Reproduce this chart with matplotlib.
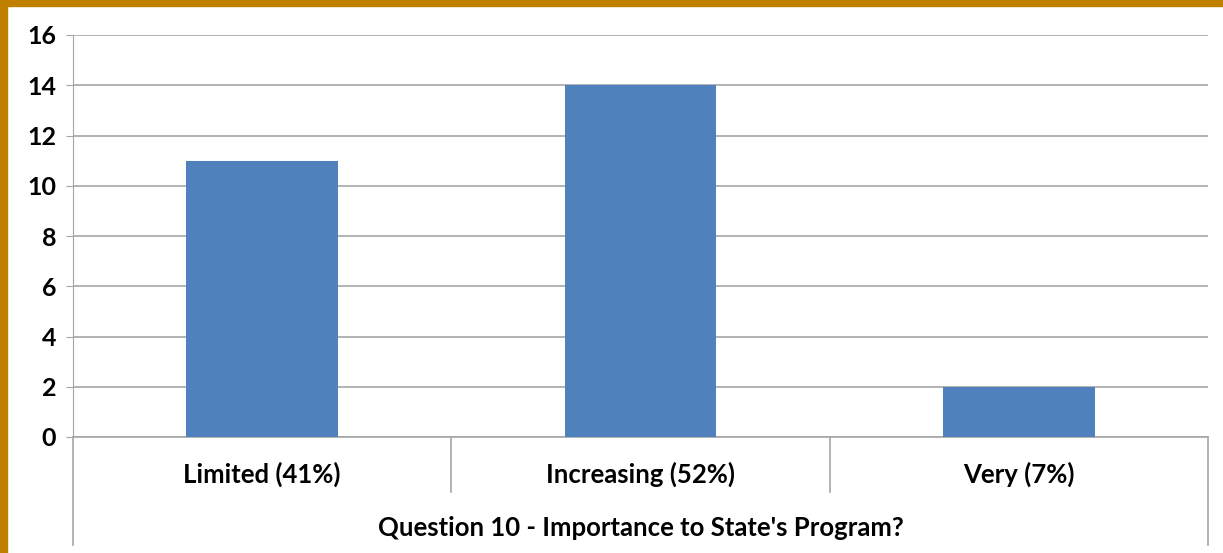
import matplotlib.pyplot as plt
from matplotlib.lines import Line2D
from matplotlib.patches import Rectangle

categories = ['Limited (41%)', 'Increasing (52%)', 'Very (7%)']
counts = [11, 14, 2]
group_label = "Question 10 - Importance to State's Program?"
yticks = [0, 2, 4, 6, 8, 10, 12, 14, 16]

W, H = 1223, 553
fig = plt.figure(figsize=(W / 100, H / 100), dpi=100)
fig.patch.set_facecolor('white')

# gold frame on left and top edges
fig.patches.append(Rectangle((0, 0), 7 / W, 1, transform=fig.transFigure,
                             color='#BF8000', zorder=0))
fig.patches.append(Rectangle((0, 1 - 6 / H), 1, 6 / H, transform=fig.transFigure,
                             color='#BF8000', zorder=0))

x0, x1 = 73, 1208
y0, y1 = 437, 35
ax = fig.add_axes([x0 / W, 1 - y0 / H, (x1 - x0) / W, (y0 - y1) / H])

grid_col = '#A6A6A6'
font = ['Lato', 'DejaVu Sans']
fs = 18.5

xs = range(len(categories))
ax.bar(xs, counts, width=0.4, color='#4F81BD', zorder=3)
ax.set_xlim(-0.5, len(categories) - 0.5)
ax.set_ylim(0, 16)
ax.set_yticks(yticks)
ax.set_yticklabels([str(v) for v in yticks], fontsize=18, fontweight='bold',
                   family=font)
ax.tick_params(axis='y', length=5, color=grid_col, pad=7)
ax.set_xticks([])
ax.yaxis.grid(True, color=grid_col, linewidth=1.2, zorder=0)
ax.set_axisbelow(True)
for s in ['top', 'right', 'bottom']:
    ax.spines[s].set_visible(False)
ax.spines['left'].set_color(grid_col)

# two-level category axis drawn below the plot
px = 1 / (y0 - y1)
ax.add_line(Line2D([0, 1], [0, 0], transform=ax.transAxes, color=grid_col,
                   lw=1.2, clip_on=False))
for xa in [0, 1]:
    ax.add_line(Line2D([xa, xa], [0, -108 * px], transform=ax.transAxes,
                       color=grid_col, lw=1.2, clip_on=False))
for k in range(1, len(categories)):
    xa = k / len(categories)
    ax.add_line(Line2D([xa, xa], [0, -55 * px], transform=ax.transAxes,
                       color=grid_col, lw=1.2, clip_on=False))
for i, c in enumerate(categories):
    ax.text(i, -37 * px * 16, c, ha='center', va='center', fontsize=fs,
            fontweight='bold', family=font, clip_on=False)
ax.text(0.5, -91 * px, group_label, transform=ax.transAxes, ha='center',
        va='center', fontsize=fs, fontweight='bold', family=font)

fig.savefig('out.png', dpi=100)
